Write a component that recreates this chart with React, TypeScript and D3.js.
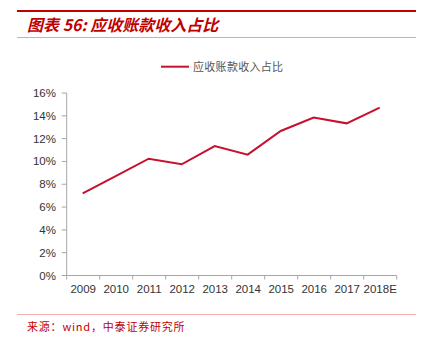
import React from "react";
import * as d3 from "d3";

const categories = ["2009", "2010", "2011", "2012", "2013", "2014", "2015", "2016", "2017", "2018E"];
const values = [7.2, 8.72, 10.24, 9.75, 11.35, 10.6, 12.67, 13.84, 13.34, 14.71];
const yTicks = [0, 2, 4, 6, 8, 10, 12, 14, 16];
const title = "图表 56: 应收账款收入占比";
const seriesName = "应收账款收入占比";
const source = "来源：wind，中泰证券研究所";

export default function App() {
  const W = 425, H = 344;
  const left = 66.7, right = 396.7, top = 93, bottom = 275.5;
  const x = d3.scaleBand<string>().domain(categories).range([left, right]).paddingInner(0).paddingOuter(0);
  const y = d3.scaleLinear().domain([0, 16]).range([bottom, top]);
  const line = d3.line<number>()
    .x((_, i) => (x(categories[i]) as number) + x.bandwidth() / 2 - 0.5)
    .y((v) => y(v));
  const red = "#c8102e";
  const axisColor = "#a6a6a6";
  const tickFont = "'Liberation Sans', Arial, sans-serif";
  const cjk = "'Noto Sans CJK SC', sans-serif";
  return (
    <svg width={W} height={H} style={{ position: "absolute", left: 0, top: 0 }}>
      <rect width={W} height={H} fill="#fff" />
      <line x1={17} x2={416} y1={11} y2={11} stroke="#c00000" strokeWidth={2.2} />
      <text x={27} y={31} fill="#c00000" fontFamily={cjk} fontSize={16} fontWeight="bold" fontStyle="italic">{title}</text>
      <line x1={17} x2={416} y1={37.5} y2={37.5} stroke="#e8a0a0" strokeWidth={1} />

      <line x1={161} x2={189} y1={66.7} y2={66.7} stroke={red} strokeWidth={2} />
      <text x={193} y={70.5} fill="#555" fontFamily={cjk} fontSize={11} letterSpacing={0.3}>{seriesName}</text>

      <line x1={left} x2={left} y1={top} y2={bottom} stroke={axisColor} strokeWidth={1} />
      {yTicks.map((t) => (
        <g key={t}>
          <line x1={left - 5} x2={left} y1={y(t)} y2={y(t)} stroke={axisColor} />
          <text x={56} y={y(t) + 4} textAnchor="end" fill="#333" fontFamily={tickFont} fontSize={11.5}>{t}%</text>
        </g>
      ))}
      <line x1={left} x2={right} y1={bottom} y2={bottom} stroke={axisColor} strokeWidth={1} />
      {[...categories.map((c) => x(c) as number), right].map((p, i) => (
        <line key={i} x1={p} x2={p} y1={bottom} y2={bottom + 4} stroke={axisColor} />
      ))}
      {categories.map((c) => (
        <text key={c} x={(x(c) as number) + x.bandwidth() / 2} y={293} textAnchor="middle" fill="#333" fontFamily={tickFont} fontSize={11.5}>{c}</text>
      ))}
      <path d={line(values) || ""} fill="none" stroke={red} strokeWidth={2} />

      <line x1={17} x2={416} y1={314.5} y2={314.5} stroke="#f0b0b0" strokeWidth={1} />
      <text x={27} y={331} fill="#c00000" fontFamily={cjk} fontSize={11} letterSpacing={0.8}>{source}</text>
    </svg>
  );
}
